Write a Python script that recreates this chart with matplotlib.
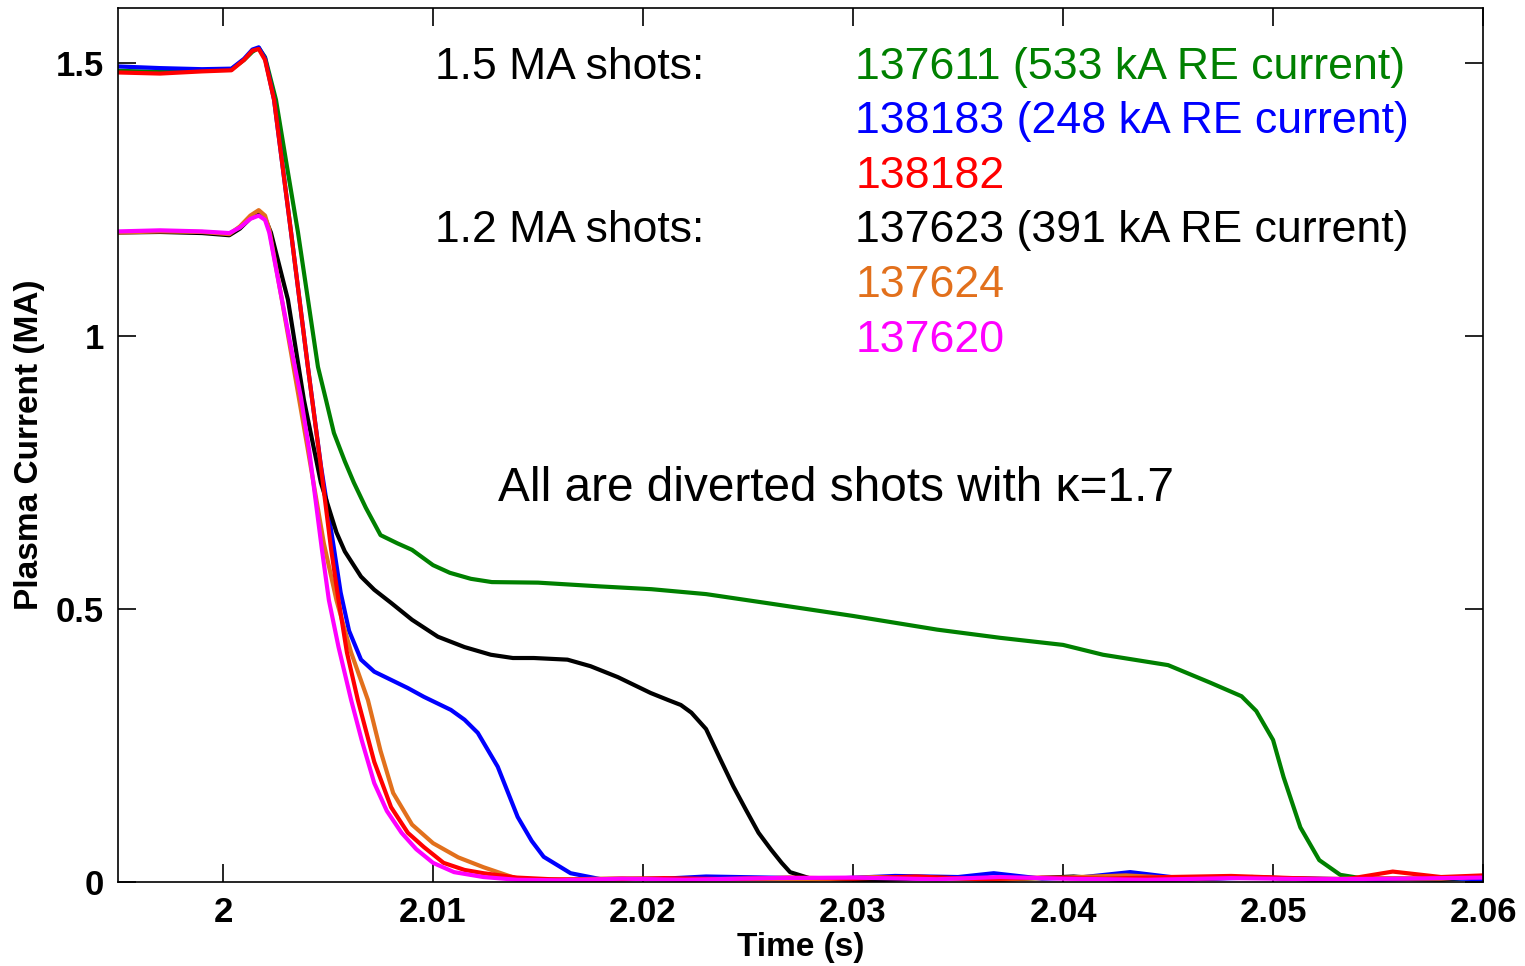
import matplotlib
matplotlib.use("Agg")
import matplotlib.pyplot as plt

plt.rcParams['font.family'] = ['Liberation Sans', 'DejaVu Sans']

# --- plasma current traces (time in s, current in MA) ---

# 137611, 1.5 MA, 533 kA RE current
t_137611 = [1.995, 1.997, 1.999, 2.0004, 2.0010, 2.0014, 2.0017, 2.0020, 2.00252, 2.0030,
            2.00357, 2.00452, 2.0049, 2.00528, 2.0058, 2.00623, 2.0068, 2.0075, 2.0083, 2.0090,
            2.0100, 2.0108, 2.0118, 2.0128, 2.0150, 2.0180, 2.0204, 2.0230, 2.0260, 2.0300,
            2.0340, 2.0370, 2.0400, 2.0419, 2.0450, 2.0470, 2.0485, 2.0492, 2.0500, 2.0505,
            2.0513, 2.0522, 2.0532, 2.0545, 2.0560, 2.0580, 2.0600]
i_137611 = [1.485, 1.483, 1.486, 1.488, 1.505, 1.520, 1.527, 1.510, 1.432, 1.320,
            1.189, 0.943, 0.883, 0.822, 0.770, 0.731, 0.685, 0.635, 0.620, 0.608,
            0.580, 0.566, 0.555, 0.549, 0.548, 0.541, 0.536, 0.527, 0.510, 0.487,
            0.462, 0.447, 0.434, 0.416, 0.397, 0.365, 0.340, 0.313, 0.260, 0.192,
            0.100, 0.040, 0.013, 0.005, 0.006, 0.004, 0.009]

# 138183, 1.5 MA, 248 kA RE current
t_138183 = [1.995, 1.997, 1.999, 2.0004, 2.0010, 2.0014, 2.0017, 2.0020, 2.00243, 2.00324,
            2.00404, 2.00466, 2.00528, 2.0056, 2.0060, 2.00657, 2.0072, 2.0080, 2.0088, 2.00956,
            2.01085, 2.0115, 2.01213, 2.01308, 2.01403, 2.0147, 2.01527, 2.01655, 2.0180, 2.0210,
            2.0230, 2.0260, 2.0290, 2.0320, 2.0350, 2.0367, 2.0390, 2.0410, 2.0432, 2.0460,
            2.0490, 2.0520, 2.0550, 2.0580, 2.0600]
i_138183 = [1.493, 1.490, 1.488, 1.489, 1.507, 1.524, 1.528, 1.508, 1.432, 1.189,
            0.943, 0.762, 0.611, 0.530, 0.460, 0.407, 0.385, 0.370, 0.355, 0.339,
            0.315, 0.297, 0.273, 0.211, 0.119, 0.075, 0.046, 0.016, 0.005, 0.006,
            0.010, 0.008, 0.006, 0.011, 0.009, 0.016, 0.006, 0.009, 0.018, 0.005,
            0.008, 0.006, 0.004, 0.007, 0.005]

# 138182, 1.5 MA
t_138182 = [1.995, 1.997, 1.999, 2.0004, 2.0010, 2.0014, 2.0017, 2.0020, 2.00243, 2.00324,
            2.00404, 2.00466, 2.00514, 2.00550, 2.0059, 2.00642, 2.0072, 2.0080, 2.0088, 2.00956,
            2.0105, 2.0115, 2.0124, 2.0140, 2.0156, 2.0180, 2.0210, 2.0240, 2.0270, 2.0300,
            2.0330, 2.0360, 2.0390, 2.0420, 2.0450, 2.0480, 2.0510, 2.0535, 2.0557, 2.0580,
            2.0600]
i_138182 = [1.482, 1.480, 1.484, 1.486, 1.505, 1.522, 1.525, 1.505, 1.432, 1.189,
            0.943, 0.760, 0.611, 0.516, 0.420, 0.333, 0.220, 0.137, 0.090, 0.064,
            0.035, 0.022, 0.016, 0.008, 0.005, 0.004, 0.007, 0.005, 0.008, 0.006,
            0.010, 0.005, 0.008, 0.006, 0.009, 0.011, 0.007, 0.005, 0.019, 0.009,
            0.012]

# 137623, 1.2 MA, 391 kA RE current
t_137623 = [1.995, 1.997, 1.999, 2.0003, 2.0008, 2.0013, 2.0017, 2.0020, 2.00228, 2.00309,
            2.00385, 2.00466, 2.0054, 2.0058, 2.00657, 2.0072, 2.0080, 2.0090, 2.01023, 2.0115,
            2.01275, 2.0138, 2.0148, 2.0164, 2.0175, 2.0188, 2.02036, 2.0212, 2.0218, 2.0223,
            2.0230, 2.0237, 2.0243, 2.0249, 2.0255, 2.0261, 2.0266, 2.0270, 2.0280, 2.0310,
            2.0340, 2.0370, 2.0405, 2.0430, 2.0460, 2.0490, 2.0520, 2.0550, 2.0580, 2.0600]
i_137623 = [1.189, 1.190, 1.188, 1.184, 1.196, 1.215, 1.222, 1.215, 1.189, 1.066,
            0.883, 0.731, 0.640, 0.605, 0.559, 0.535, 0.511, 0.480, 0.449, 0.430,
            0.416, 0.410, 0.410, 0.407, 0.395, 0.375, 0.346, 0.333, 0.324, 0.310,
            0.280, 0.223, 0.175, 0.132, 0.090, 0.059, 0.035, 0.018, 0.006, 0.003,
            0.008, 0.004, 0.010, 0.003, 0.005, 0.009, 0.004, 0.006, 0.005, 0.010]

# 137624, 1.2 MA
t_137624 = [1.995, 1.997, 1.999, 2.0003, 2.0008, 2.0013, 2.0017, 2.0020, 2.0022, 2.0028,
            2.0040, 2.0048, 2.0054, 2.0061, 2.0069, 2.0075, 2.0081, 2.0090, 2.0100, 2.0112,
            2.0124, 2.0140, 2.0160, 2.0190, 2.0220, 2.0250, 2.0280, 2.0310, 2.0340, 2.0370,
            2.0400, 2.0430, 2.0460, 2.0490, 2.0520, 2.0550, 2.0580, 2.0600]
i_137624 = [1.189, 1.191, 1.190, 1.186, 1.200, 1.220, 1.230, 1.220, 1.195, 1.066,
            0.800, 0.620, 0.516, 0.420, 0.333, 0.240, 0.163, 0.105, 0.071, 0.045,
            0.027, 0.006, 0.004, 0.007, 0.005, 0.006, 0.004, 0.009, 0.007, 0.005,
            0.008, 0.012, 0.006, 0.009, 0.005, 0.007, 0.006, 0.011]

# 137620, 1.2 MA
t_137620 = [1.995, 1.997, 1.999, 2.0003, 2.0008, 2.0013, 2.0017, 2.0020, 2.0022, 2.0031,
            2.00371, 2.0041, 2.0047, 2.00504, 2.0055, 2.0061, 2.0066, 2.0072, 2.0078, 2.0085,
            2.0092, 2.0100, 2.0110, 2.0124, 2.0140, 2.0160, 2.0190, 2.0220, 2.0260, 2.0300,
            2.0340, 2.0370, 2.0400, 2.0440, 2.0480, 2.0520, 2.0560, 2.0600]
i_137620 = [1.191, 1.193, 1.191, 1.188, 1.198, 1.214, 1.220, 1.212, 1.189, 1.006,
            0.887, 0.791, 0.611, 0.516, 0.430, 0.333, 0.260, 0.181, 0.130, 0.090,
            0.060, 0.035, 0.018, 0.009, 0.004, 0.003, 0.006, 0.004, 0.007, 0.008,
            0.005, 0.009, 0.006, 0.004, 0.007, 0.005, 0.006, 0.008]

# legend-like labels
group_labels = ['1.5 MA shots:', '1.2 MA shots:']
shot_labels = ['137611 (533 kA RE current)', '138183 (248 kA RE current)', '138182',
               '137623 (391 kA RE current)', '137624', '137620']
shot_colors = ['#008000', '#0000ff', '#ff0000', '#000000', '#e2701c', '#ff00ff']

x_ticks = [2.0, 2.01, 2.02, 2.03, 2.04, 2.05, 2.06]
x_tick_labels = ['2', '2.01', '2.02', '2.03', '2.04', '2.05', '2.06']
y_ticks = [0, 0.5, 1, 1.5]
y_tick_labels = ['0', '0.5', '1', '1.5']

fig = plt.figure(figsize=(15.25, 9.66), dpi=100)
ax = fig.add_axes([0.0774, 0.087, 0.8951, 0.9047])

# draw order matches the overlaps in the figure
ax.plot(t_137611, i_137611, color=shot_colors[0], lw=3)
ax.plot(t_138183, i_138183, color=shot_colors[1], lw=3)
ax.plot(t_137623, i_137623, color=shot_colors[3], lw=3)
ax.plot(t_137624, i_137624, color=shot_colors[4], lw=3)
ax.plot(t_138182, i_138182, color=shot_colors[2], lw=3)
ax.plot(t_137620, i_137620, color=shot_colors[5], lw=3)

ax.set_xlim(1.995, 2.06)
ax.set_ylim(0, 1.6)
ax.set_xticks(x_ticks)
ax.set_xticklabels(x_tick_labels, fontweight='bold', fontsize=25)
ax.set_yticks(y_ticks)
ax.set_yticklabels(y_tick_labels, fontweight='bold', fontsize=25)
ax.tick_params(direction='in', length=13, width=1.2, top=True, right=True, pad=10)
for s in ax.spines.values():
    s.set_linewidth(1.2)

ax.set_xlabel('Time (s)', fontsize=24, fontweight='bold', labelpad=2)
ax.set_ylabel('Plasma Current (MA)', fontsize=24, fontweight='bold', labelpad=8)

# text annotations
ax.text(2.0101, 1.492, group_labels[0], fontsize=32, va='center', ha='left')
ax.text(2.0101, 1.192, group_labels[1], fontsize=32, va='center', ha='left')
for k, (lab, c) in enumerate(zip(shot_labels, shot_colors)):
    ax.text(2.0301, 1.492 - 0.1 * k, lab, color=c, fontsize=32.2, va='center', ha='left')

ax.text(2.0131, 0.72, 'All are diverted shots with \u03ba=1.7', fontsize=34.4,
        va='center', ha='left')

fig.savefig('out.png', dpi=100)
